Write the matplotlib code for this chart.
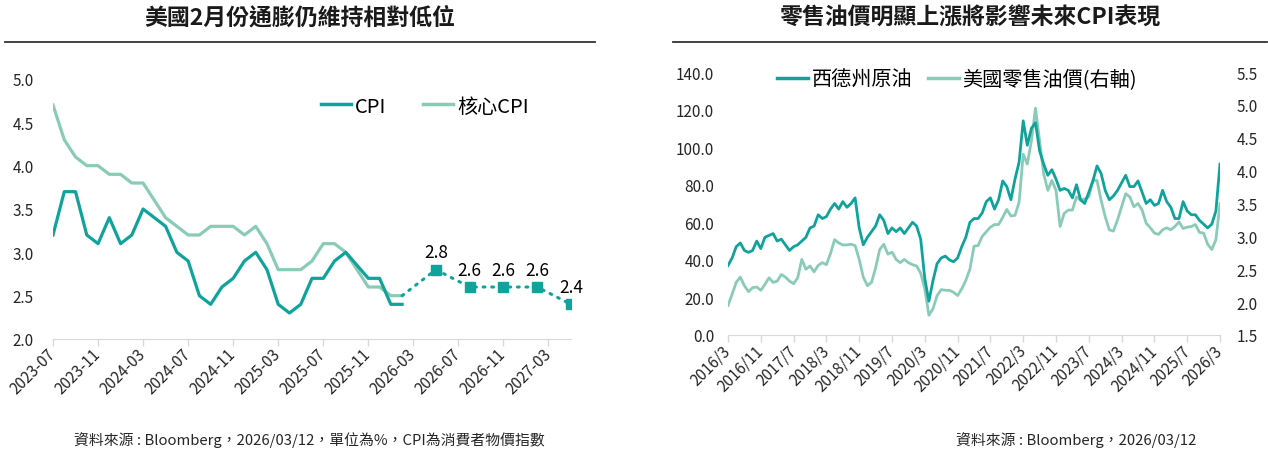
import matplotlib
matplotlib.use("Agg")
import matplotlib.pyplot as plt
from matplotlib.lines import Line2D

FONT = ['Noto Sans CJK TC', 'DejaVu Sans']
plt.rcParams['font.family'] = FONT

# ---------------- data: left chart ----------------
cpi_months = ['2023-07', '2023-08', '2023-09', '2023-10', '2023-11', '2023-12',
              '2024-01', '2024-02', '2024-03', '2024-04', '2024-05', '2024-06',
              '2024-07', '2024-08', '2024-09', '2024-10', '2024-11', '2024-12',
              '2025-01', '2025-02', '2025-03', '2025-04', '2025-05', '2025-06',
              '2025-07', '2025-08', '2025-09', '2025-11', '2025-12',
              '2026-01', '2026-02']
cpi = [3.2, 3.7, 3.7, 3.2, 3.1, 3.4,
       3.1, 3.2, 3.5, 3.4, 3.3, 3.0, 2.9, 2.5, 2.4, 2.6, 2.7, 2.9,
       3.0, 2.8, 2.4, 2.3, 2.4, 2.7, 2.7, 2.9, 3.0, 2.7, 2.7,
       2.4, 2.4]
core_cpi = [4.7, 4.3, 4.1, 4.0, 4.0, 3.9,
            3.9, 3.8, 3.8, 3.6, 3.4, 3.3, 3.2, 3.2, 3.3, 3.3, 3.3, 3.2,
            3.3, 3.1, 2.8, 2.8, 2.8, 2.9, 3.1, 3.1, 3.0, 2.6, 2.6,
            2.5, 2.5]
fc_months = ['2026-02', '2026-05', '2026-08', '2026-11', '2027-02', '2027-05']
fc_values = [2.5, 2.8, 2.6, 2.6, 2.6, 2.4]
left_ticks = ['2023-07', '2023-11', '2024-03', '2024-07', '2024-11', '2025-03',
              '2025-07', '2025-11', '2026-03', '2026-07', '2026-11', '2027-03']
left_yticks = [2.0, 2.5, 3.0, 3.5, 4.0, 4.5, 5.0]

# ---------------- data: right chart (monthly, 2016/3 - 2026/3) ----------------
wti = [37, 41, 47, 49, 45, 44, 45, 50, 46, 52,
       53, 54, 50, 51, 48, 45, 47, 48, 50, 52, 57, 58,
       64, 62, 63, 67, 70, 67, 71, 68, 70, 73, 57, 48,
       52, 55, 58, 64, 61, 54, 57, 55, 57, 54, 57, 60,
       58, 51, 30, 18, 29, 38, 41, 42, 40, 39, 41, 47,
       52, 60, 62, 62, 65, 71, 73, 67, 72, 82, 79, 72,
       83, 92, 114, 101, 110, 113, 98, 91, 85, 88, 83, 77,
       78, 77, 73, 80, 72, 70, 76, 82, 90, 86, 77, 72,
       74, 77, 81, 85, 79, 79, 82, 76, 70, 72, 69, 70,
       77, 71, 68, 62, 62, 71, 66, 64, 64, 61, 59, 57,
       59, 66, 91]
gasoline = [1.95, 2.12, 2.30, 2.38, 2.25, 2.16, 2.22, 2.23, 2.18, 2.27,
            2.37, 2.30, 2.32, 2.42, 2.38, 2.32, 2.28, 2.37, 2.65, 2.50, 2.55, 2.46,
            2.56, 2.60, 2.57, 2.74, 2.95, 2.90, 2.87, 2.87, 2.88, 2.86, 2.65, 2.38,
            2.25, 2.30, 2.52, 2.80, 2.88, 2.73, 2.76, 2.65, 2.60, 2.65, 2.60, 2.57,
            2.55, 2.44, 2.20, 1.80, 1.90, 2.10, 2.19, 2.18, 2.18, 2.15, 2.10, 2.20,
            2.33, 2.50, 2.85, 2.86, 3.00, 3.07, 3.14, 3.18, 3.18, 3.29, 3.41, 3.31,
            3.32, 3.52, 4.25, 4.10, 4.45, 4.95, 4.45, 3.95, 3.70, 3.85, 3.70, 3.15,
            3.35, 3.40, 3.40, 3.60, 3.55, 3.57, 3.60, 3.85, 3.85, 3.55, 3.30, 3.10,
            3.08, 3.25, 3.45, 3.65, 3.60, 3.45, 3.50, 3.40, 3.20, 3.13, 3.05, 3.03,
            3.10, 3.13, 3.10, 3.15, 3.22, 3.12, 3.14, 3.15, 3.18, 3.06, 3.05, 2.88,
            2.80, 2.95, 3.50]
right_start = (2016, 3)
right_tick_step = 8
left_yticks_r = [0, 20, 40, 60, 80, 100, 120, 140]
right_yticks_r = [1.5, 2.0, 2.5, 3.0, 3.5, 4.0, 4.5, 5.0, 5.5]

TEAL = '#0FA39C'
LIGHT = '#8ACBB7'
AXIS = '#D9D9D9'
TXT = '#262626'


def midx(s, base=(2023, 7)):
    y, m = int(s[:4]), int(s[5:7])
    return (y - base[0]) * 12 + (m - base[1])


W, H = 1268, 452
fig = plt.figure(figsize=(W / 100, H / 100), dpi=100)


def frame(x0, y0, x1, y1):
    return [x0 / W, 1 - y1 / H, (x1 - x0) / W, (y1 - y0) / H]


# ---------------- left chart ----------------
ax = fig.add_axes(frame(53, 80, 571, 340))
xc = [midx(s) for s in cpi_months]
ax.plot(xc, core_cpi, color=LIGHT, lw=2.3, solid_joinstyle='round', label='核心CPI', zorder=2)
ax.plot(xc, cpi, color=TEAL, lw=2.3, solid_joinstyle='round', label='CPI', zorder=3)
xf = [midx(s) for s in fc_months]
ax.plot(xf, fc_values, color=TEAL, lw=2.2, ls=(0, (0.6, 2.2)), dash_capstyle='round', zorder=3)
ax.plot(xf[1:], fc_values[1:], ls='none', marker='s', ms=6.5, color=TEAL, zorder=4)
for x, v in zip(xf[1:], fc_values[1:]):
    ax.annotate(f'{v:.1f}', (x, v), xytext=(0, 6), textcoords='offset points',
                ha='center', va='bottom', fontsize=12.5, color='#000000')

ax.set_xlim(0, 46)
ax.set_ylim(2.0, 5.0)
ax.set_yticks(left_yticks)
ax.set_yticklabels([f'{v:.1f}' for v in left_yticks], fontsize=11, color=TXT)
ax.set_xticks([midx(s) for s in left_ticks])
ax.set_xticklabels(left_ticks, rotation=45, ha='right', va='center',
                   rotation_mode='anchor', fontsize=11, color=TXT)
ax.tick_params(axis='y', length=0, pad=14)
ax.tick_params(axis='x', length=5, color=AXIS, width=1, pad=4)
for s in ['top', 'right', 'left']:
    ax.spines[s].set_visible(False)
ax.spines['bottom'].set_color(AXIS)
h = [Line2D([], [], color=TEAL, lw=2.5), Line2D([], [], color=LIGHT, lw=2.5)]
ax.legend(h, ['CPI', '核心CPI'], loc='center', bbox_to_anchor=(0.718, 0.896),
          ncol=2, frameon=False, fontsize=14.5, handlelength=1.5, handletextpad=0.2,
          columnspacing=1.8)

# ---------------- right chart ----------------
axr = fig.add_axes(frame(728, 73, 1220, 336))
xr = list(range(len(wti)))
axr.plot(xr, wti, color=TEAL, lw=2.0, solid_joinstyle='round', zorder=3)
axr.set_xlim(0, 120)
axr.set_ylim(0, 140)
axr.set_yticks(left_yticks_r)
axr.set_yticklabels([f'{v:.1f}' for v in left_yticks_r], fontsize=11, color=TXT)
rt = list(range(0, 121, right_tick_step))
labs = []
for i in rt:
    y = right_start[0] + (right_start[1] - 1 + i) // 12
    m = (right_start[1] - 1 + i) % 12 + 1
    labs.append(f'{y}/{m}')
axr.set_xticks(rt)
axr.set_xticklabels(labs, rotation=45, ha='right', va='center',
                    rotation_mode='anchor', fontsize=11, color=TXT)
axr.tick_params(axis='y', length=0, pad=10)
axr.tick_params(axis='x', length=5, color=AXIS, width=1, pad=4)
for s in ['top', 'right', 'left']:
    axr.spines[s].set_visible(False)
axr.spines['bottom'].set_color(AXIS)

ax2 = axr.twinx()
ax2.plot(xr, gasoline, color=LIGHT, lw=2.0, solid_joinstyle='round', zorder=2)
ax2.set_ylim(1.5, 5.5)
ax2.set_yticks(right_yticks_r)
ax2.set_yticklabels([f'{v:.1f}' for v in right_yticks_r], fontsize=11, color=TXT)
ax2.tick_params(axis='y', length=0, pad=12)
for s in ['top', 'right', 'left', 'bottom']:
    ax2.spines[s].set_visible(False)
axr.set_zorder(ax2.get_zorder() + 1)
axr.patch.set_visible(False)
h2 = [Line2D([], [], color=TEAL, lw=2.5), Line2D([], [], color=LIGHT, lw=2.5)]
axr.legend(h2, ['西德州原油', '美國零售油價(右軸)'], loc='center',
           bbox_to_anchor=(0.466, 0.973), ncol=2, frameon=False, fontsize=14.5,
           handlelength=1.5, handletextpad=0.2, columnspacing=0.8)

# ---------------- titles, rules, notes ----------------
fig.text(300 / W, 1 - 18 / H, '美國2月份通膨仍維持相對低位', ha='center', va='center',
         fontsize=16.5, fontweight='bold', color='#1A1A1A')
fig.text(970 / W, 1 - 18 / H, '零售油價明顯上漲將影響未來CPI表現', ha='center', va='center',
         fontsize=16.5, fontweight='bold', color='#1A1A1A')
fig.add_artist(Line2D([5 / W, 595 / W], [1 - 43 / H, 1 - 43 / H], color='#333333', lw=1.3))
fig.add_artist(Line2D([673 / W, 1267 / W], [1 - 43 / H, 1 - 43 / H], color='#333333', lw=1.3))
fig.text(309 / W, 1 - 440 / H, '資料來源 : Bloomberg，2026/03/12，單位為%，CPI為消費者物價指數',
         ha='center', va='center', fontsize=10.7, color=TXT)
fig.text(1076 / W, 1 - 440 / H, '資料來源 : Bloomberg，2026/03/12',
         ha='center', va='center', fontsize=10.7, color=TXT)

fig.savefig('out.png', dpi=100)
